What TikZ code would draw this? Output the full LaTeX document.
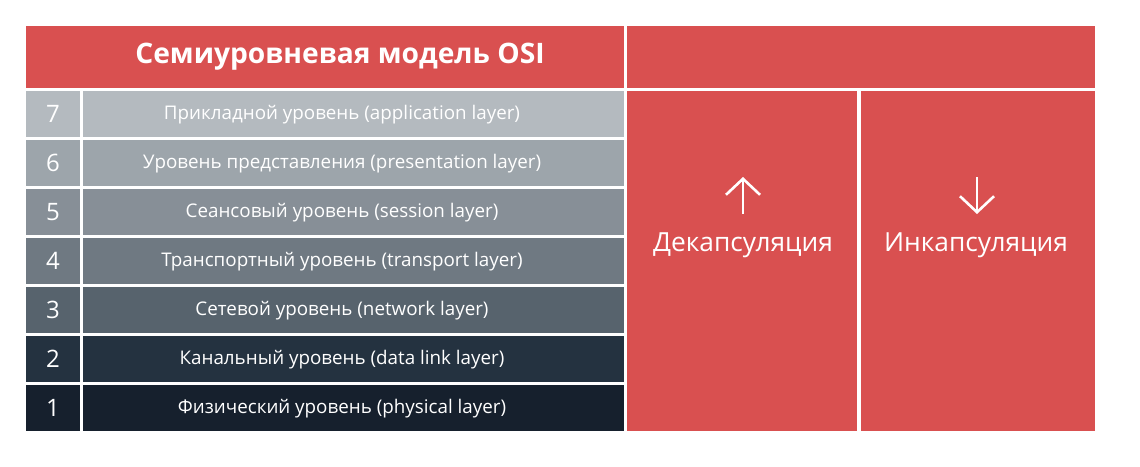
\documentclass[tikz,border=0pt]{standalone}
\usepackage{fontspec}
\setmainfont{Open Sans}
\usetikzlibrary{arrows.meta}
\definecolor{osired}{HTML}{D95050}
\definecolor{rowG}{HTML}{B4BABF}
\definecolor{rowF}{HTML}{9DA5AB}
\definecolor{rowE}{HTML}{878F97}
\definecolor{rowD}{HTML}{6F7982}
\definecolor{rowC}{HTML}{57636D}
\definecolor{rowB}{HTML}{243240}
\definecolor{rowA}{HTML}{16202D}
\begin{document}
\begin{tikzpicture}[x=1pt,y=-1pt,
  cell/.style={inner sep=0pt,outer sep=0pt,anchor=north west,text=white},
  numcell/.style={cell,minimum width=54pt,minimum height=46pt,font=\fontsize{24}{24}\selectfont\addfontfeatures{Weight=300}},
  labcell/.style={cell,minimum width=541pt,minimum height=46pt},
  labtext/.style={text=white,inner sep=0pt,font=\fontsize{18.8}{18.8}\selectfont},
  redcell/.style={cell,fill=osired},
  sidetext/.style={text=white,font=\fontsize{26.3}{26.3}\selectfont},
  bigarrow/.style={white,line width=2.6pt,-{Straight Barb[length=16pt,width=34pt,line width=2.6pt]}}
]
\useasboundingbox (0,0) rectangle (1140,466);
\fill[white] (0,0) rectangle (1140,466);
% header
\node[redcell,minimum width=598pt,minimum height=62pt] (title) at (26,26) {};
\node[text=white,font=\fontsize{28.2}{28.2}\selectfont\bfseries] (titletext) at (340,57) {Семиуровневая модель OSI};
\node[redcell,minimum width=468pt,minimum height=62pt] (titleright) at (627,26) {};
% rows
\foreach \n/\c/\t [count=\i from 0] in {
  7/rowG/{Прикладной уровень (application layer)},
  6/rowF/{Уровень представления (presentation layer)},
  5/rowE/{Сеансовый уровень (session layer)},
  4/rowD/{Транспортный уровень (transport layer)},
  3/rowC/{Сетевой уровень (network layer)},
  2/rowB/{Канальный уровень (data link layer)},
  1/rowA/{Физический уровень (physical layer)}} {
  \node[numcell,fill=\c] (num\n) at (26,91+49*\i) {\n};
  \node[labcell,fill=\c] (lab\n) at (83,91+49*\i) {};
  \node[labtext] (labtext\n) at (342,114.5+49*\i) {\t};
}
% right columns
\node[redcell,minimum width=230pt,minimum height=340pt] (decap) at (627,91) {};
\node[redcell,minimum width=234pt,minimum height=340pt] (encap) at (861,91) {};
\node[sidetext] (decaptext) at (743,245) {Декапсуляция};
\node[sidetext] (encaptext) at (976,245) {Инкапсуляция};
\coordinate (upA) at (743,214);
\coordinate (upB) at (743,177);
\coordinate (dnA) at (977,177);
\coordinate (dnB) at (977,214);
\draw[bigarrow] (upA) -- (upB);
\draw[bigarrow] (dnA) -- (dnB);
\end{tikzpicture}
\end{document}
